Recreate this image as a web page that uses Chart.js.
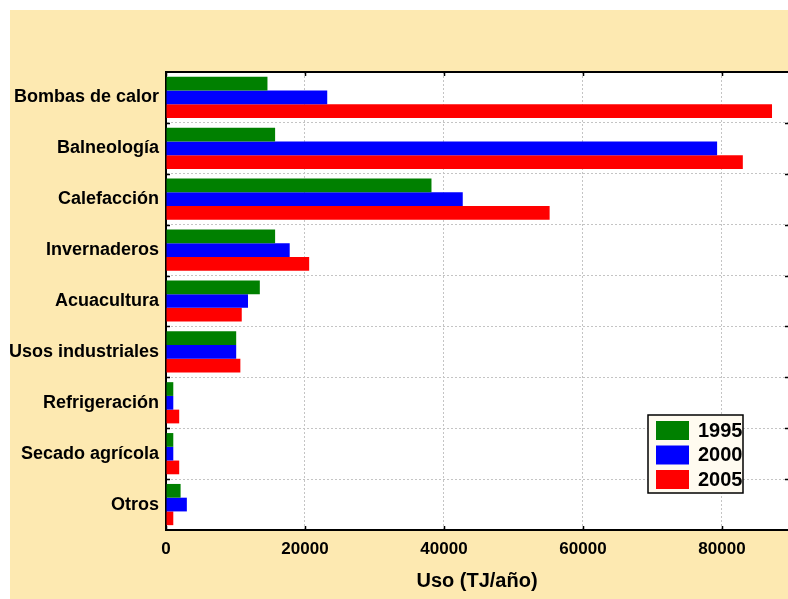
<!DOCTYPE html>
<html>
<head>
<meta charset="utf-8">
<script src="https://cdn.jsdelivr.net/npm/chart.js@4/dist/chart.umd.min.js"></script>
<style>
  html, body { margin: 0; padding: 0; background: #ffffff; }
  #wrap { position: relative; width: 788px; height: 599px; }
</style>
</head>
<body>
<div id="wrap"><canvas id="c" width="788" height="599"></canvas></div>
<script>
// Uso directo de la energía geotérmica por aplicación (TJ/año)
const categories = ['Bombas de calor', 'Balneología', 'Calefacción', 'Invernaderos', 'Acuacultura',
                    'Usos industriales', 'Refrigeración', 'Secado agrícola', 'Otros'];
const years = ['1995', '2000', '2005'];
const uso1995 = [14600, 15700, 38200, 15700, 13500, 10100, 1050, 1050, 2100];
const uso2000 = [23200, 79300, 42700, 17800, 11800, 10100, 1050, 1050, 3000];
const uso2005 = [87200, 83000, 55200, 20600, 10900, 10700, 1900, 1900, 1050];
const xTicks = [0, 20000, 40000, 60000, 80000];

const FONT = "'Liberation Sans', Arial, Helvetica, sans-serif";
const PAGE_BG = '#FDE9B1';

// Page backdrop and white plotting area
const backdrop = {
  id: 'backdrop',
  beforeDraw(chart) {
    const { ctx, chartArea: a, width, height } = chart;
    ctx.save();
    ctx.fillStyle = '#ffffff';
    ctx.fillRect(0, 0, width, height);
    ctx.fillStyle = PAGE_BG;
    ctx.fillRect(10, 10, width - 10, height - 10);
    ctx.fillStyle = '#ffffff';
    ctx.fillRect(a.left, a.top, a.right - a.left, a.bottom - a.top);
    ctx.restore();
  }
};

// Frame lines and small inner tick marks
const frame = {
  id: 'frame',
  afterDraw(chart) {
    const { ctx, chartArea: a, scales } = chart;
    ctx.save();
    ctx.strokeStyle = '#000';
    ctx.lineWidth = 2;
    ctx.beginPath();
    ctx.moveTo(a.left - 1, a.top);
    ctx.lineTo(a.right, a.top);
    ctx.stroke();
    ctx.lineWidth = 1.5;
    const xs = scales.x;
    xTicks.forEach(v => {
      const px = Math.round(xs.getPixelForValue(v)) + 0.5;
      ctx.beginPath();
      ctx.moveTo(px, a.top); ctx.lineTo(px, a.top + 4);
      ctx.moveTo(px, a.bottom); ctx.lineTo(px, a.bottom - 4);
      ctx.stroke();
    });
    const n = categories.length;
    const step = (a.bottom - a.top) / n;
    for (let i = 1; i < n; i++) {
      const py = Math.round(a.top + i * step) + 0.5;
      ctx.beginPath();
      ctx.moveTo(a.left, py); ctx.lineTo(a.left + 4, py);
      ctx.moveTo(a.right, py); ctx.lineTo(a.right - 3, py);
      ctx.stroke();
    }
    ctx.restore();
  }
};

// Legend box drawn inside the plotting area
const innerLegend = {
  id: 'innerLegend',
  afterDraw(chart) {
    const { ctx } = chart;
    const x = 648, y = 415, w = 95, h = 78;
    ctx.save();
    ctx.fillStyle = '#FFFBF0';
    ctx.fillRect(x, y, w, h);
    ctx.strokeStyle = '#000';
    ctx.lineWidth = 1.5;
    ctx.strokeRect(x, y, w, h);
    ctx.font = 'bold 20px ' + FONT;
    ctx.textBaseline = 'middle';
    ctx.textAlign = 'left';
    chart.data.datasets.forEach((ds, i) => {
      const ry = y + 6 + i * 24.5;
      ctx.fillStyle = ds.backgroundColor;
      ctx.fillRect(x + 8, ry, 33, 19);
      ctx.fillStyle = '#000';
      ctx.fillText(ds.label, x + 50, ry + 10);
    });
    ctx.restore();
  }
};

new Chart(document.getElementById('c'), {
  type: 'bar',
  data: {
    labels: categories,
    datasets: [
      { label: years[0], data: uso1995, backgroundColor: '#008000' },
      { label: years[1], data: uso2000, backgroundColor: '#0000FF' },
      { label: years[2], data: uso2005, backgroundColor: '#FF0000' }
    ]
  },
  options: {
    indexAxis: 'y',
    responsive: false,
    animation: false,
    devicePixelRatio: 1,
    layout: { padding: { top: 72, right: 0, left: 0, bottom: 0 } },
    datasets: { bar: { categoryPercentage: 0.81, barPercentage: 1.0, borderWidth: 0 } },
    plugins: {
      legend: { display: false },
      tooltip: { enabled: false }
    },
    scales: {
      x: {
        type: 'linear',
        min: 0,
        max: 89500,
        afterBuildTicks(scale) { scale.ticks = xTicks.map(v => ({ value: v })); },
        afterFit(scale) { scale.height = 69; },
        ticks: {
          color: '#000',
          font: { family: FONT, size: 17, weight: 'bold' },
          padding: 9,
          maxRotation: 0,
          callback: (v) => String(v)
        },
        grid: { color: '#c4c4c4', lineWidth: 1, drawTicks: false },
        border: { display: true, color: '#000', width: 2, dash: [2, 2] },
        title: {
          display: true,
          text: 'Uso (TJ/año)',
          color: '#000',
          font: { family: FONT, size: 20, weight: 'bold' },
          padding: { top: 4, bottom: 6 }
        }
      },
      y: {
        type: 'category',
        afterFit(scale) { scale.width = 166; },
        ticks: {
          color: '#000',
          font: { family: FONT, size: 18, weight: 'bold' },
          padding: 7,
          autoSkip: false
        },
        grid: { color: '#c4c4c4', lineWidth: 1, drawTicks: false, offset: true },
        border: { display: true, color: '#000', width: 2, dash: [2, 2] }
      }
    }
  },
  plugins: [backdrop, frame, innerLegend]
});
</script>
</body>
</html>
